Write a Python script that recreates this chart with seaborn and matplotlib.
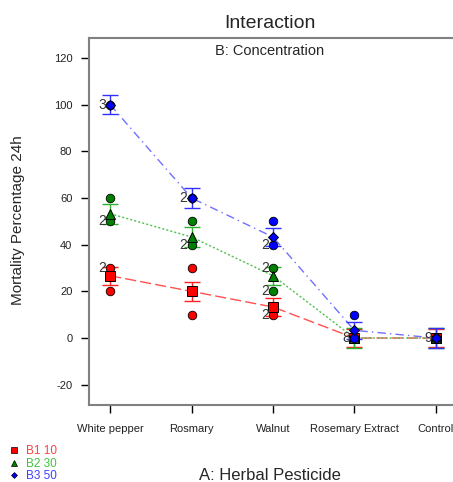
import matplotlib
matplotlib.use("Agg")
import matplotlib.pyplot as plt
from matplotlib.lines import Line2D
import pandas as pd
import seaborn as sns

# factor A levels
herbs = ["White pepper", "Rosmary", "Walnut", "Rosemary Extract", "Control"]
conc_labels = ["B1 10", "B2 30", "B3 50"]

# predicted means per concentration
b1_mean = [26.7, 20.0, 13.3, 0.0, 0.0]
b2_mean = [53.3, 43.3, 26.7, 0.0, 0.0]
b3_mean = [100.0, 60.0, 43.3, 3.3, 0.0]

# LSD half widths
b1_err = [3.8, 4.0, 3.7, 4.0, 4.0]
b2_err = [4.3, 4.2, 3.8, 4.2, 4.2]
b3_err = [4.0, 4.4, 4.0, 3.7, 4.2]

# design points (herb index, value)
b1_pts_x = [0, 0, 1, 1, 1, 2, 3, 4]
b1_pts_y = [30, 20, 30, 20, 10, 10, 0, 0]
b2_pts_x = [0, 0, 1, 1, 2, 2, 3, 4]
b2_pts_y = [60, 50, 50, 40, 30, 20, 0, 0]
b3_pts_x = [0, 1, 2, 2, 3, 3, 4]
b3_pts_y = [100, 60, 50, 40, 10, 0, 0]

# replicate count labels
lab_x = [0, 0, 0, 1, 1, 2, 2, 2, 2, 3, 4]
lab_y = [100, 50, 30, 60, 40, 40, 30, 20, 10, 0, 0]
lab_txt = ["3", "2", "2", "2", "2", "2", "2", "2", "2", "8", "9"]

sns.set_style("white")
plt.rcParams["font.family"] = ["Liberation Sans", "DejaVu Sans"]
plt.rcParams["axes.unicode_minus"] = False

fig = plt.figure(figsize=(4.53, 4.82), dpi=100)
ax = fig.add_axes([89 / 453, 1 - 405 / 482, (457 - 89) / 453, (405 - 38) / 482])

pt_cols = ["#ff0000", "#008000", "#0000ff"]
line_cols = ["#ff5050", "#50c050", "#7070ff"]
err_cols = ["#ff2020", "#30b030", "#3030ff"]
markers = ["s", "^", "D"]
msizes = [7, 7, 5]
dash_styles = [(8, 3), (1.5, 1.5), (6, 3, 1, 3)]

means = [b1_mean, b2_mean, b3_mean]
errs = [b1_err, b2_err, b3_err]
pts = [(b1_pts_x, b1_pts_y), (b2_pts_x, b2_pts_y), (b3_pts_x, b3_pts_y)]
pos = list(range(len(herbs)))

for i in range(3):
    df = pd.DataFrame({"pos": pos, "mean": means[i]})
    sns.lineplot(data=df, x="pos", y="mean", ax=ax, color=line_cols[i],
                 linewidth=1, dashes=False, zorder=2)
    ax.lines[-1].set_dashes(dash_styles[i])
    ax.errorbar(pos, means[i], yerr=errs[i], fmt="none", ecolor=err_cols[i],
                elinewidth=1, capsize=5.5, capthick=1, zorder=3)
    pdf = pd.DataFrame({"x": pts[i][0], "y": pts[i][1]})
    sns.scatterplot(data=pdf, x="x", y="y", ax=ax, color=pt_cols[i], s=38,
                    edgecolor="black", linewidth=0.6, zorder=4 + i)
    ax.plot(pos, means[i], linestyle="none", marker=markers[i], markersize=msizes[i],
            markerfacecolor=pt_cols[i], markeredgecolor="black", markeredgewidth=0.7,
            zorder=4 + i)

for x, y, t in zip(lab_x, lab_y, lab_txt):
    ax.annotate(t, (x, y), xytext=(-3, 0), textcoords="offset points",
                ha="right", va="center", fontsize=10, color="#333333", zorder=8)

ax.set_xlim(-0.26, 4.26)
ax.set_ylim(-28.7, 128.6)
ax.set_xticks(pos)
ax.set_xticklabels(herbs, fontsize=7.5)
ax.set_yticks([-20, 0, 20, 40, 60, 80, 100, 120])
ax.tick_params(axis="both", direction="out", length=6, width=1, color="black",
               labelsize=8, labelcolor="#222222", bottom=True, left=True)
ax.tick_params(axis="x", pad=8)
ax.tick_params(axis="y", pad=6)
ax.set_xlabel("")
ax.set_ylabel("")
for side in ["left", "top", "bottom"]:
    ax.spines[side].set_color("#808080")
    ax.spines[side].set_linewidth(1.5)
ax.spines["right"].set_visible(False)

fig.text(270 / 453, 1 - 23 / 482, "Interaction", ha="center", va="center", fontsize=14)
fig.text(270 / 453, 1 - 51 / 482, "B: Concentration", ha="center", va="center", fontsize=10.5)
fig.text(18 / 453, 1 - 220 / 482, "Mortality Percentage 24h", ha="center", va="center",
         rotation=90, fontsize=11)
fig.text(270 / 453, 1 - 475 / 482, "A: Herbal Pesticide", ha="center", va="center", fontsize=12)

handles = [Line2D([], [], linestyle="none", marker=markers[i], markersize=msizes[i] - 2,
                  markerfacecolor=pt_cols[i], markeredgecolor="black", markeredgewidth=0.5)
           for i in range(3)]
fig.legend(handles, conc_labels, loc="upper left", bbox_to_anchor=(0.0, 1 - 436 / 482),
           frameon=False, fontsize=8.5, labelcolor=["#ff4040", "#40c040", "#4040ff"],
           handlelength=0.8, handletextpad=0.6, labelspacing=0.02, borderpad=0.3)

fig.savefig("out.png", dpi=100)
